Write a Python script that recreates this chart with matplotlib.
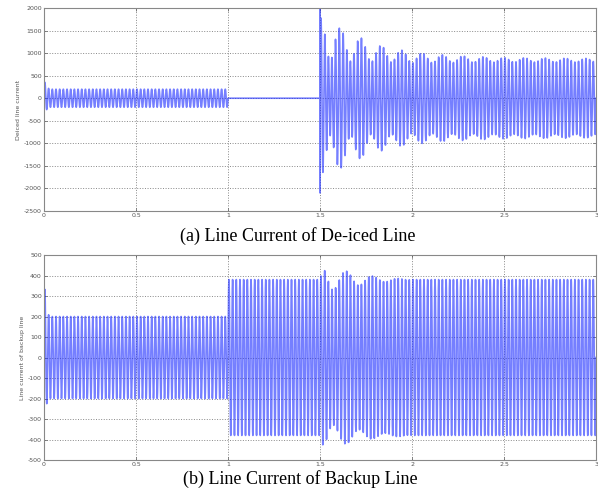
import numpy as np
import matplotlib
matplotlib.use('Agg')
import matplotlib.pyplot as plt

plt.rcParams['axes.unicode_minus'] = False

# datos: envolventes de la corriente (A) y frecuencia de red
freq = 50.0
t_end = 3.0

# (a) linea descongelada
env_t_a = [0.0, 0.015, 0.03, 0.9999, 1.0, 1.4999, 1.5, 1.55, 1.6, 1.7, 1.8, 1.9, 2.0, 2.2, 2.5, 3.0]
env_main_a = [400, 250, 200, 200, 0, 0, 1300, 1280, 1200, 1100, 1000, 950, 900, 870, 850, 840]
env_beat_a = [0, 0, 0, 0, 0, 0, 500, 450, 380, 280, 200, 150, 120, 80, 50, 40]
spike_t_a = [1.5, 1.5003, 1.5006]
spike_v_a = [2000, -2100, 0]
yticks_a = [-2500, -2000, -1500, -1000, -500, 0, 500, 1000, 1500, 2000]

# (b) linea de respaldo
env_t_b = [0.0, 0.012, 0.03, 0.9999, 1.0, 1.5, 1.52, 1.55, 1.6, 1.7, 1.8, 2.0, 3.0]
env_main_b = [400, 230, 200, 200, 380, 380, 400, 390, 380, 380, 380, 380, 380]
env_beat_b = [0, 0, 0, 0, 0, 0, 50, 60, 50, 30, 15, 0, 0]
yticks_b = [-500, -400, -300, -200, -100, 0, 100, 200, 300, 400, 500]

xticks = [0, 0.5, 1, 1.5, 2, 2.5, 3]
xlabels = ['0', '0.5', '1', '1.5', '2', '2.5', '3']
captions = ['(a) Line Current of De-iced Line', '(b) Line Current of Backup Line']
ylabels = ['Deiced line current', 'Line current of backup line']

def senal(env_t, env_main, env_beat, beat_f):
  t = np.linspace(0, t_end, 60001)
  a = np.interp(t, env_t, env_main)
  b = np.interp(t, env_t, env_beat)
  y = a * np.sin(2 * np.pi * freq * t) + b * np.sin(2 * np.pi * beat_f * (t - 1.5))
  return t, y

def insertar_pico(t, y, st, sv):
  t = np.concatenate([t, st])
  y = np.concatenate([y, sv])
  orden = np.argsort(t, kind='stable')
  return t[orden], y[orden]

ta, ya = senal(env_t_a, env_main_a, env_beat_a, 41.0)
ta, ya = insertar_pico(ta, ya, spike_t_a, spike_v_a)
tb, yb = senal(env_t_b, env_main_b, env_beat_b, 43.0)

fig = plt.figure(figsize=(5.98, 4.94), dpi=100)
ax1 = fig.add_axes([0.0736, 0.5729, 0.9231, 0.4109])
ax2 = fig.add_axes([0.0736, 0.0688, 0.9231, 0.415])

for ax, t, y, yt, yl, lim in [(ax1, ta, ya, yticks_a, ylabels[0], (-2500, 2000)),
                              (ax2, tb, yb, yticks_b, ylabels[1], (-500, 500))]:
  ax.plot(t, y, color='#1a2aff', linewidth=1.2, alpha=0.6)
  ax.set_xlim(0, 3)
  ax.set_ylim(*lim)
  ax.set_xticks(xticks)
  ax.set_xticklabels(xlabels)
  ax.set_yticks(yt)
  ax.grid(True, linestyle=':', color='#888888', linewidth=0.7)
  ax.tick_params(direction='in', labelsize=4.5, length=2, width=0.5,
                 colors='#555555', pad=1.5, top=True, right=True,
                 labeltop=False, labelright=False)
  for s in ax.spines.values():
    s.set_color('#888888')
    s.set_linewidth(0.8)
  ax.set_ylabel(yl, fontsize=4.5, color='#555555', labelpad=2)

fig.text(0.4983, 0.522, captions[0], ha='center', va='center',
         fontsize=13, family='Liberation Serif')
fig.text(0.5017, 0.030, captions[1], ha='center', va='center',
         fontsize=13, family='Liberation Serif')

plt.savefig('out.png', dpi=100)
